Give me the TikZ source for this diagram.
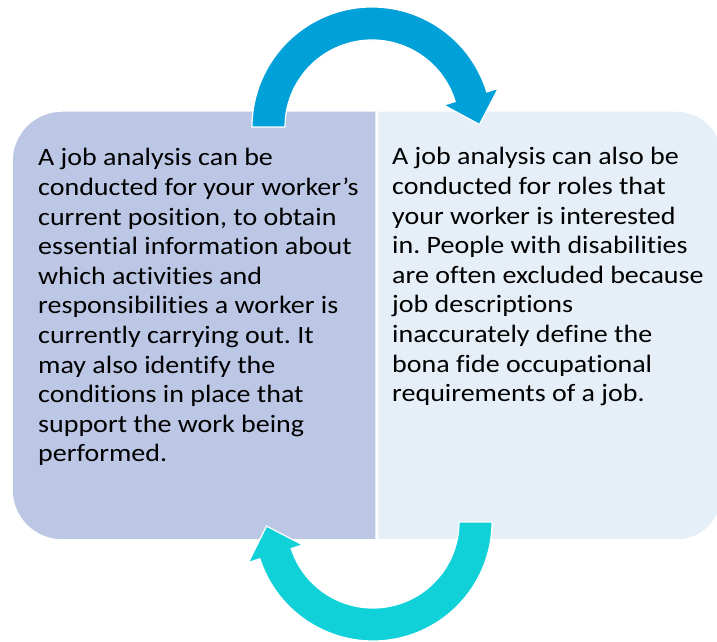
\documentclass[tikz,border=0pt]{standalone}
\usepackage{fontspec}
\setmainfont{Carlito}[Ligatures=NoCommon, FakeStretch=1.12]
\usetikzlibrary{calc}
\definecolor{leftbox}{RGB}{188,199,229}
\definecolor{rightbox}{RGB}{230,238,248}
\definecolor{toparrow}{RGB}{0,160,216}
\definecolor{botarrow}{RGB}{16,208,216}
\tikzset{
  boxfill/.style={draw=white, line width=1.5pt},
  arrowshape/.style={draw=white, line width=1.2pt, line join=miter},
  bodytext/.style={inner sep=0pt, anchor=base west, align=left, text=black,
    font=\fontsize{25}{29.6}\selectfont}
}
\frenchspacing
\begin{document}
\begin{tikzpicture}[x=1pt,y=1pt]
\useasboundingbox (0,0) rectangle (717,642);
% left box (rounded on the left)
\path[boxfill, fill=leftbox]
  (376,102) -- (62,102) arc (270:180:50) -- (12,481) arc (180:90:50) -- (376,531) -- cycle;
% right box (rounded on the right)
\path[boxfill, fill=rightbox]
  (377.5,102) -- (677,102) arc (270:360:45) -- (722,486) arc (0:90:45) -- (377.5,531) -- cycle;
% top arrow
\coordinate (ct) at (372,515);
\path[arrowshape, fill=toparrow]
  ($(ct)+(180:87)$) -- ($(ct)+(180:120)$) arc (180:17:120)
  -- ($(ct)+(17:132)$) -- ($(ct)+(17:103.5)+(-73:29)$) -- ($(ct)+(17:75)$)
  -- ($(ct)+(17:87)$) arc (17:180:87) -- cycle;
% bottom arrow
\coordinate (cb) at (373,120);
\path[arrowshape, fill=botarrow]
  ($(cb)+(0:86)$) -- ($(cb)+(0:119)$) arc (0:-162:119)
  -- ($(cb)+(-162:131)$) -- ($(cb)+(-162:102.5)+(108:29)$) -- ($(cb)+(-162:74)$)
  -- ($(cb)+(-162:86)$) arc (-162:0:86) -- cycle;
% texts (anchored at the baseline of their last line)
\node[bodytext] (lefttext) at (38,180) {A job analysis can be\\conducted for your worker’s\\current position, to obtain\\essential information about\\which activities and\\responsibilities a worker is\\currently carrying out. It\\may also identify the\\conditions in place that\\support the work being\\performed.};
\node[bodytext] (righttext) at (392,240.2) {A job analysis can also be\\conducted for roles that\\your worker is interested\\in. People with disabilities\\are often excluded because\\job descriptions\\inaccurately define the\\bona fide occupational\\requirements of a job.};
\end{tikzpicture}
\end{document}
